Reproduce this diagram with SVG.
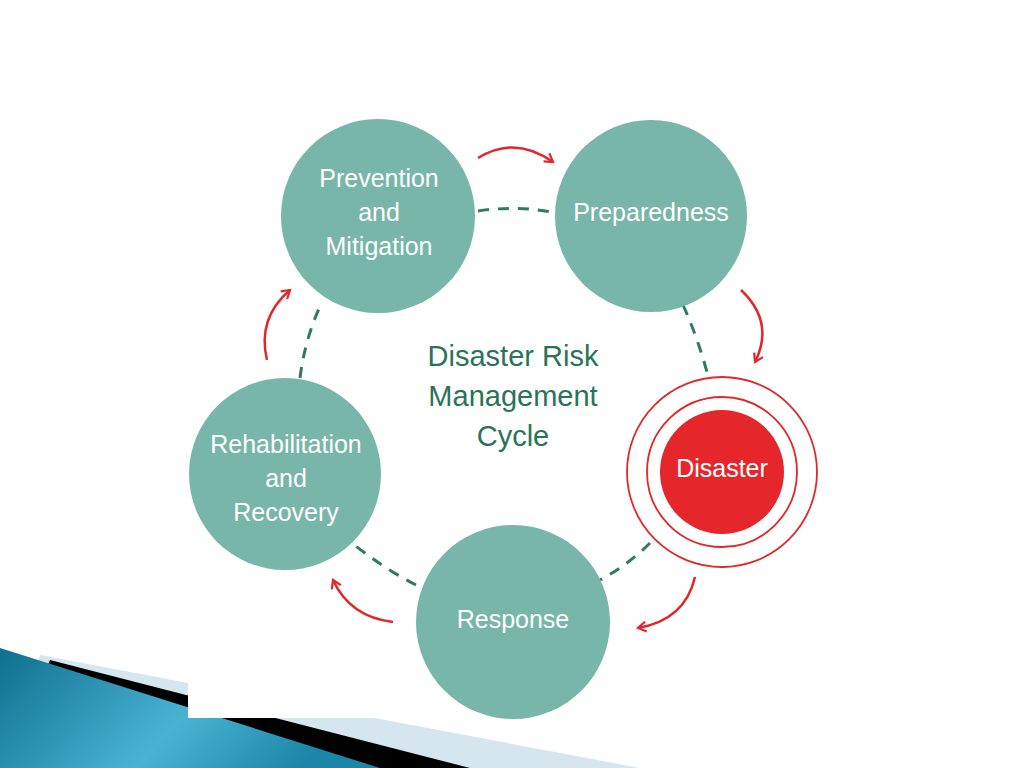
<svg xmlns="http://www.w3.org/2000/svg" width="1024" height="768" viewBox="0 0 1024 768">
<defs>
<linearGradient id="bg" x1="0" y1="0" x2="1" y2="0.3"><stop offset="0" stop-color="#0e6f8e"/><stop offset="0.6" stop-color="#4ab3d4"/><stop offset="1" stop-color="#1a86a8"/></linearGradient>
<marker id="ah" viewBox="0 0 12 12" refX="9" refY="6" markerWidth="12" markerHeight="12" markerUnits="userSpaceOnUse" orient="auto"><path d="M1,1 L9,6 L1,11" fill="none" stroke="#e0282a" stroke-width="2.2"/></marker>
<style>
.n{fill:#77b6a8}
.t{font-family:"Liberation Sans",Arial,sans-serif;font-size:25px;fill:#fff;text-anchor:middle}
.d{fill:none;stroke:#2e7a64;stroke-width:3;stroke-dasharray:11 9}
.a{fill:none;stroke:#e0282a;stroke-width:2.5;marker-end:url(#ah)}
</style>
</defs>
<rect width="1024" height="768" fill="#fff"/>
<polygon points="40,655 640,768 0,768" fill="#d5e6ee"/>
<polygon points="50,660 470,768 0,768" fill="#000"/>
<polygon points="0,648 380,768 0,768" fill="url(#bg)"/>
<rect x="188" y="120" width="642" height="598" fill="#fff"/>
<g id="connectors">
<path class="d" d="M478,211 Q518,205 556,213"/>
<path class="d" d="M683,305 Q698,338 708,376"/>
<path class="d" d="M650,543 Q628,565 600,580"/>
<path class="d" d="M416,585 Q383,568 352,543"/>
<path class="d" d="M300,378 Q305,338 322,302"/>
<path class="a" d="M478,158 Q515,135 553,162"/>
<path class="a" d="M741,290 Q775,322 755,362"/>
<path class="a" d="M695,577 Q685,620 638,628"/>
<path class="a" d="M393,622 Q350,617 333,580"/>
<path class="a" d="M267,360 Q257,318 290,290"/>
</g>
<g id="title"><text font-family="Liberation Sans,Arial,sans-serif" font-size="29" fill="#2a7358" text-anchor="middle"><tspan x="513" y="366">Disaster Risk</tspan><tspan x="513" y="406">Management</tspan><tspan x="513" y="446">Cycle</tspan></text></g>
<g id="prevention"><circle class="n" cx="378" cy="216" r="97"/><text class="t"><tspan x="379" y="187">Prevention</tspan><tspan x="379" y="221">and</tspan><tspan x="379" y="255">Mitigation</tspan></text></g>
<g id="preparedness"><circle class="n" cx="651" cy="216" r="96"/><text class="t" x="651" y="221">Preparedness</text></g>
<g id="disaster"><circle cx="722" cy="472" r="95" fill="none" stroke="#e0282a" stroke-width="1.8"/><circle cx="722" cy="472" r="75" fill="none" stroke="#e0282a" stroke-width="1.8"/><circle cx="722" cy="472" r="62" fill="#e5262a"/><text class="t" x="722" y="477">Disaster</text></g>
<g id="response"><circle class="n" cx="513" cy="622" r="97"/><text class="t" x="513" y="628">Response</text></g>
<g id="rehabilitation"><circle class="n" cx="285" cy="474" r="96"/><text class="t"><tspan x="286" y="453">Rehabilitation</tspan><tspan x="286" y="487">and</tspan><tspan x="286" y="521">Recovery</tspan></text></g>
</svg>
